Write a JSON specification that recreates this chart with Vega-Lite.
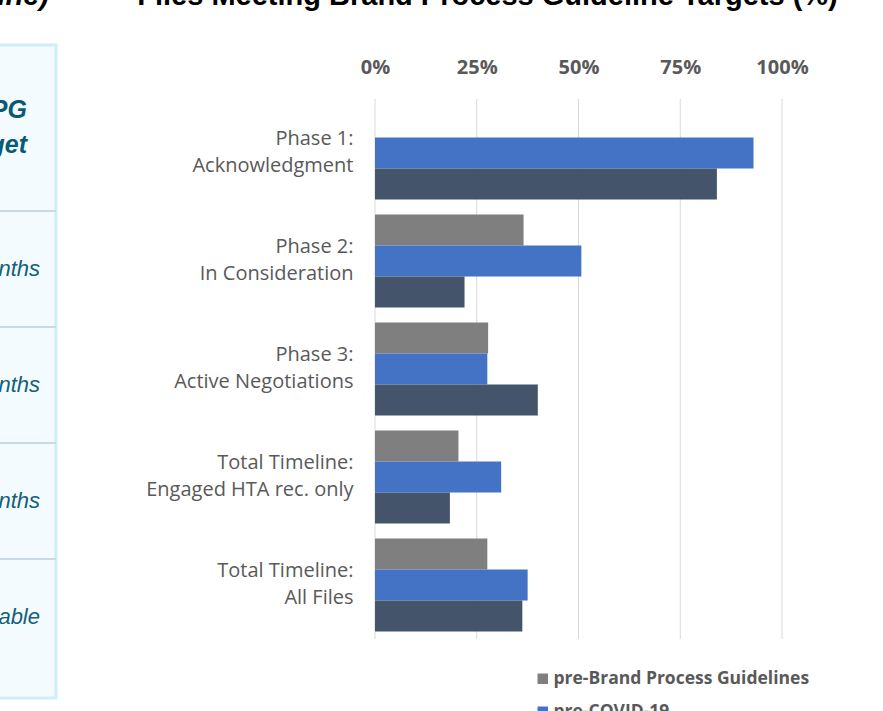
{
  "$schema": "https://vega.github.io/schema/vega-lite/v6.json",
  "background": "white",
  "padding": {"left": -196, "top": -20, "right": 0, "bottom": 0},
  "spacing": 79,
  "config": {"view": {"stroke": null}, "font": "Open Sans"},
  "resolve": {"legend": {"color": "independent"}},
  "hconcat": [
    {
      "width": 250,
      "height": 653,
      "view": {"fill": "#f4fbfe", "stroke": "#cdeefa", "strokeWidth": 3},
      "title": {"text": "(target timeline)", "anchor": "end", "dx": -7, "offset": 34, "font": "Liberation Sans", "fontSize": 29, "fontWeight": "bold", "fontStyle": "italic", "color": "#000000"},
      "data": {"values": [
        {"section": "header", "label": ["BPG", "Target"]},
        {"section": "r1", "label": "≤ 2 months"},
        {"section": "r2", "label": "≤ 6 months"},
        {"section": "r3", "label": "≤ 6 months"},
        {"section": "r4", "label": "Not applicable"}
      ]},
      "layer": [
        {
          "transform": [{"filter": "datum.section != 'header'"}],
          "mark": {"type": "rule", "color": "#c9dbe2", "strokeWidth": 2, "clip": true},
          "encoding": {
            "y": {"field": "section", "type": "nominal", "bandPosition": 0, "sort": ["r1", "r2", "r3", "r4"], "scale": {"type": "band", "paddingInner": 0, "paddingOuter": 0.815, "align": 0.878}, "axis": null}
          }
        },
        {
          "transform": [{"filter": "datum.section != 'header'"}],
          "mark": {"type": "text", "clip": true, "align": "right", "baseline": "middle", "dx": 109, "font": "Liberation Sans", "fontSize": 22, "fontStyle": "italic", "color": "#12607a"},
          "encoding": {
            "y": {"field": "section", "type": "nominal", "sort": ["r1", "r2", "r3", "r4"], "scale": {"type": "band", "paddingInner": 0, "paddingOuter": 0.815, "align": 0.878}, "axis": null},
            "text": {"field": "label"}
          }
        },
        {
          "transform": [{"filter": "datum.section == 'header'"}],
          "mark": {"type": "text", "clip": true, "align": "right", "baseline": "middle", "dx": 96, "font": "Liberation Sans", "fontSize": 25, "fontStyle": "italic", "fontWeight": "bold", "lineHeight": 35, "color": "#0b5a73"},
          "encoding": {
            "y": {"field": "section", "type": "nominal", "scale": {"type": "band", "domain": ["header", "r1", "r2", "r3", "r4"], "paddingInner": 0, "paddingOuter": 0}, "axis": null},
            "text": {"field": "label"}
          }
        }
      ],
      "resolve": {"scale": {"y": "independent"}}
    },
    {
      "width": 407,
      "height": 594,
      "title": {"text": "Files Meeting Brand Process Guideline Targets (%)", "dx": -91, "offset": 34, "font": "Liberation Sans", "fontSize": 29, "fontWeight": "bold", "color": "#000000"},
      "layer": [
        {
          "data": {"values": [{"tick": 0}, {"tick": 0.25}, {"tick": 0.5}, {"tick": 0.75}, {"tick": 1}]},
          "mark": {"type": "rule", "color": "#d9d9d9", "strokeWidth": 1},
          "encoding": {
            "x": {"field": "tick", "type": "quantitative"},
            "y": {"datum": "Phase 1: Acknowledgment", "type": "nominal", "bandPosition": -0.0806},
            "y2": {"datum": "Total Timeline: All Files", "bandPosition": 1.0806}
          }
        },
        {
          "data": {"values": [
            {"category": "Phase 1: Acknowledgment", "series": "pre-COVID-19", "value": 0.93},
            {"category": "Phase 1: Acknowledgment", "series": "COVID-19", "value": 0.84},
            {"category": "Phase 2: In Consideration", "series": "pre-Brand Process Guidelines", "value": 0.365},
            {"category": "Phase 2: In Consideration", "series": "pre-COVID-19", "value": 0.507},
            {"category": "Phase 2: In Consideration", "series": "COVID-19", "value": 0.22},
            {"category": "Phase 3: Active Negotiations", "series": "pre-Brand Process Guidelines", "value": 0.278},
            {"category": "Phase 3: Active Negotiations", "series": "pre-COVID-19", "value": 0.276},
            {"category": "Phase 3: Active Negotiations", "series": "COVID-19", "value": 0.40},
            {"category": "Total Timeline: Engaged HTA rec. only", "series": "pre-Brand Process Guidelines", "value": 0.205},
            {"category": "Total Timeline: Engaged HTA rec. only", "series": "pre-COVID-19", "value": 0.31},
            {"category": "Total Timeline: Engaged HTA rec. only", "series": "COVID-19", "value": 0.184},
            {"category": "Total Timeline: All Files", "series": "pre-Brand Process Guidelines", "value": 0.276},
            {"category": "Total Timeline: All Files", "series": "pre-COVID-19", "value": 0.375},
            {"category": "Total Timeline: All Files", "series": "COVID-19", "value": 0.362}
          ]},
          "mark": {"type": "bar"},
          "encoding": {
            "y": {
              "field": "category", "type": "nominal",
              "scale": {"domain": ["Phase 1: Acknowledgment", "Phase 2: In Consideration", "Phase 3: Active Negotiations", "Total Timeline: Engaged HTA rec. only", "Total Timeline: All Files"], "paddingInner": 0.139, "paddingOuter": 0.3195, "align": 0.891},
              "axis": {"title": null, "labelExpr": "split(replace(datum.label, ': ', ':|'), '|')", "labelFont": "Open Sans", "labelFontSize": 20, "labelColor": "#595959", "labelPadding": 22, "labelLineHeight": 27, "labelOffset": -13.5, "labelLimit": 400, "ticks": false, "domain": false}
            },
            "yOffset": {"field": "series", "type": "nominal", "sort": ["pre-Brand Process Guidelines", "pre-COVID-19", "COVID-19"], "scale": {"paddingInner": 0, "paddingOuter": 0}},
            "x": {
              "field": "value", "type": "quantitative",
              "scale": {"domain": [0, 1]},
              "axis": {"orient": "top", "offset": -54, "format": "%", "values": [0, 0.25, 0.5, 0.75, 1], "title": null, "grid": false, "labelFlush": false, "labelFont": "Open Sans", "labelFontSize": 20, "labelFontWeight": "bold", "labelColor": "#595959", "ticks": false, "domain": false, "labelPadding": 22}
            },
            "color": {
              "field": "series", "type": "nominal",
              "scale": {"domain": ["pre-Brand Process Guidelines", "pre-COVID-19", "COVID-19"], "range": ["#7f7f7f", "#4472c4", "#44546a"]},
              "legend": {"orient": "none", "legendX": 159, "legendY": 625, "title": null, "symbolType": "square", "symbolSize": 110, "labelOffset": 2, "labelFont": "Open Sans", "labelFontSize": 17.5, "labelFontWeight": "bold", "labelColor": "#595959", "labelLimit": 400, "rowPadding": 14}
            }
          }
        }
      ]
    }
  ]
}
